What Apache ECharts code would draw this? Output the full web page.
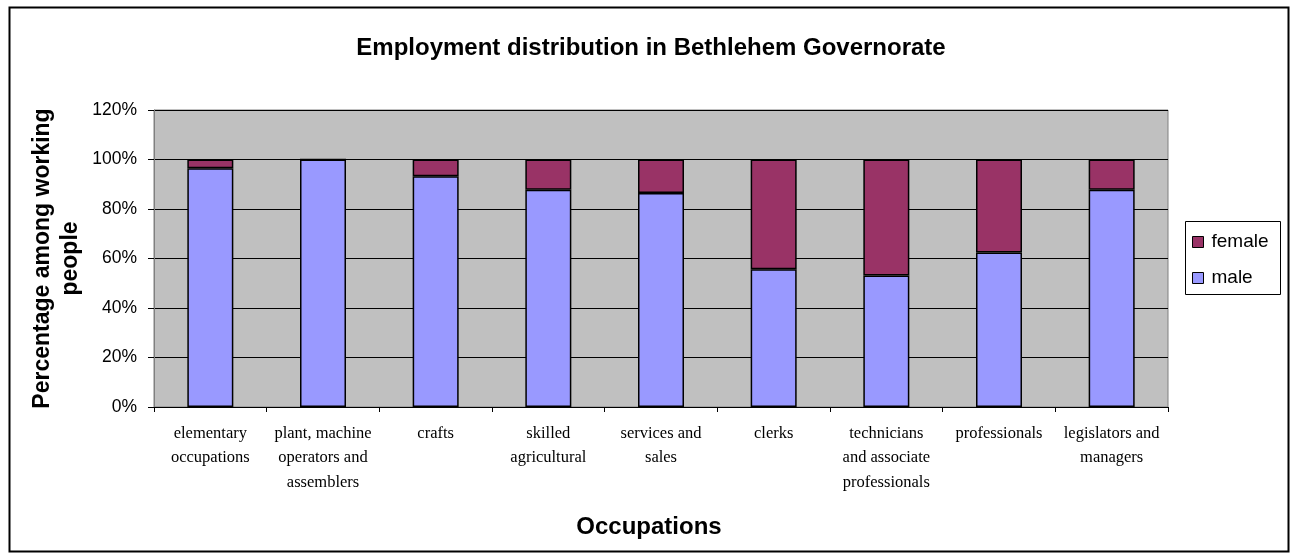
<!DOCTYPE html>
<html>
<head>
<meta charset="utf-8">
<script src="https://cdn.jsdelivr.net/npm/echarts@6/dist/echarts.min.js"></script>
<style>
  html, body { margin: 0; padding: 0; background: #ffffff; }
  #chart { width: 1292px; height: 555px; }
</style>
</head>
<body>
<div id="chart"></div>
<script>
// Occupation groups (line breaks as shown under the axis)
const occupations = [
  'elementary\noccupations',
  'plant, machine\noperators and\nassemblers',
  'crafts',
  'skilled\nagricultural',
  'services and\nsales',
  'clerks',
  'technicians\nand associate\nprofessionals',
  'professionals',
  'legislators and\nmanagers'
];

// Share of working people by sex, in percent
const maleShare   = [96.5, 100, 93.2, 87.8, 86.5, 55.7, 53.1, 62.4, 87.8];
const femaleShare = [3.5, 0, 6.8, 12.2, 13.5, 44.3, 46.9, 37.6, 12.2];

const yTicks = { min: 0, max: 120, interval: 20 };

const sans = 'Arial, Liberation Sans';
const serif = 'Times New Roman, Liberation Serif';

const chart = echarts.init(document.getElementById('chart'), null, { renderer: 'canvas' });

chart.setOption({
  backgroundColor: '#ffffff',
  animation: false,
  title: [
    {
      text: 'Employment distribution in Bethlehem Governorate',
      left: 646, top: 31, textAlign: 'center',
      textStyle: { fontFamily: sans, fontWeight: 'bold', fontSize: 24, color: '#000' }
    },
    {
      text: 'Occupations',
      left: 644, top: 510, textAlign: 'center',
      textStyle: { fontFamily: sans, fontWeight: 'bold', fontSize: 24, color: '#000' }
    }
  ],
  graphic: [
    {
      type: 'rect', left: 7, top: 5, z: -1,
      shape: { width: 1279, height: 544 },
      style: { fill: 'none', stroke: '#000', lineWidth: 2 }
    },
    {
      type: 'rect', z: 10,
      shape: { x: 1185.5, y: 221.5, width: 95, height: 73 },
      style: { fill: 'none', stroke: '#000', lineWidth: 1 }
    }
  ],
  legend: {
    data: ['female', 'male'],
    orient: 'vertical',
    left: 1192, top: 232,
    padding: 0,
    itemWidth: 11, itemHeight: 11, itemGap: 16,
    icon: 'rect',
    itemStyle: { borderColor: '#000', borderWidth: 1 },
    textStyle: { fontFamily: sans, fontSize: 19, color: '#000', lineHeight: 20, padding: [0, 0, 0, 3] }
  },
  grid: { left: 154, right: 124, top: 110, bottom: 148, show: true,
          outerBoundsMode: 'none', containLabel: false,
          backgroundColor: '#c0c0c0', borderColor: '#808080', borderWidth: 1 },
  xAxis: {
    type: 'category',
    data: occupations,
    axisLine: { lineStyle: { color: '#000', width: 1 } },
    axisTick: { show: true, length: 5, alignWithLabel: false, lineStyle: { color: '#000' } },
    axisLabel: {
      interval: 0, margin: 14,
      fontFamily: serif, fontSize: 16.5, lineHeight: 24.5, color: '#000'
    }
  },
  yAxis: {
    type: 'value',
    min: yTicks.min, max: yTicks.max, interval: yTicks.interval,
    name: 'Percentage among working\npeople',
    nameLocation: 'middle', nameGap: 69, nameRotate: 90,
    nameMoveOverlap: false,
    nameTextStyle: { fontFamily: sans, fontWeight: 'bold', fontSize: 23, color: '#000', lineHeight: 28 },
    axisLine: { show: true, lineStyle: { color: '#808080' } },
    axisTick: { show: true, length: 6, lineStyle: { color: '#000' } },
    splitLine: { show: true, lineStyle: { color: '#000', width: 1 } },
    axisLabel: {
      margin: 17, formatter: '{value}%',
      fontFamily: sans, fontSize: 17.5, color: '#000'
    }
  },
  series: [
    {
      name: 'male', type: 'bar', stack: 'total', data: maleShare,
      barWidth: 46,
      itemStyle: { color: '#9999ff', borderColor: '#000', borderWidth: 1.5 }
    },
    {
      name: 'female', type: 'bar', stack: 'total', data: femaleShare,
      barWidth: 46,
      itemStyle: { color: '#993366', borderColor: '#000', borderWidth: 1.5 }
    }
  ]
});
</script>
</body>
</html>
